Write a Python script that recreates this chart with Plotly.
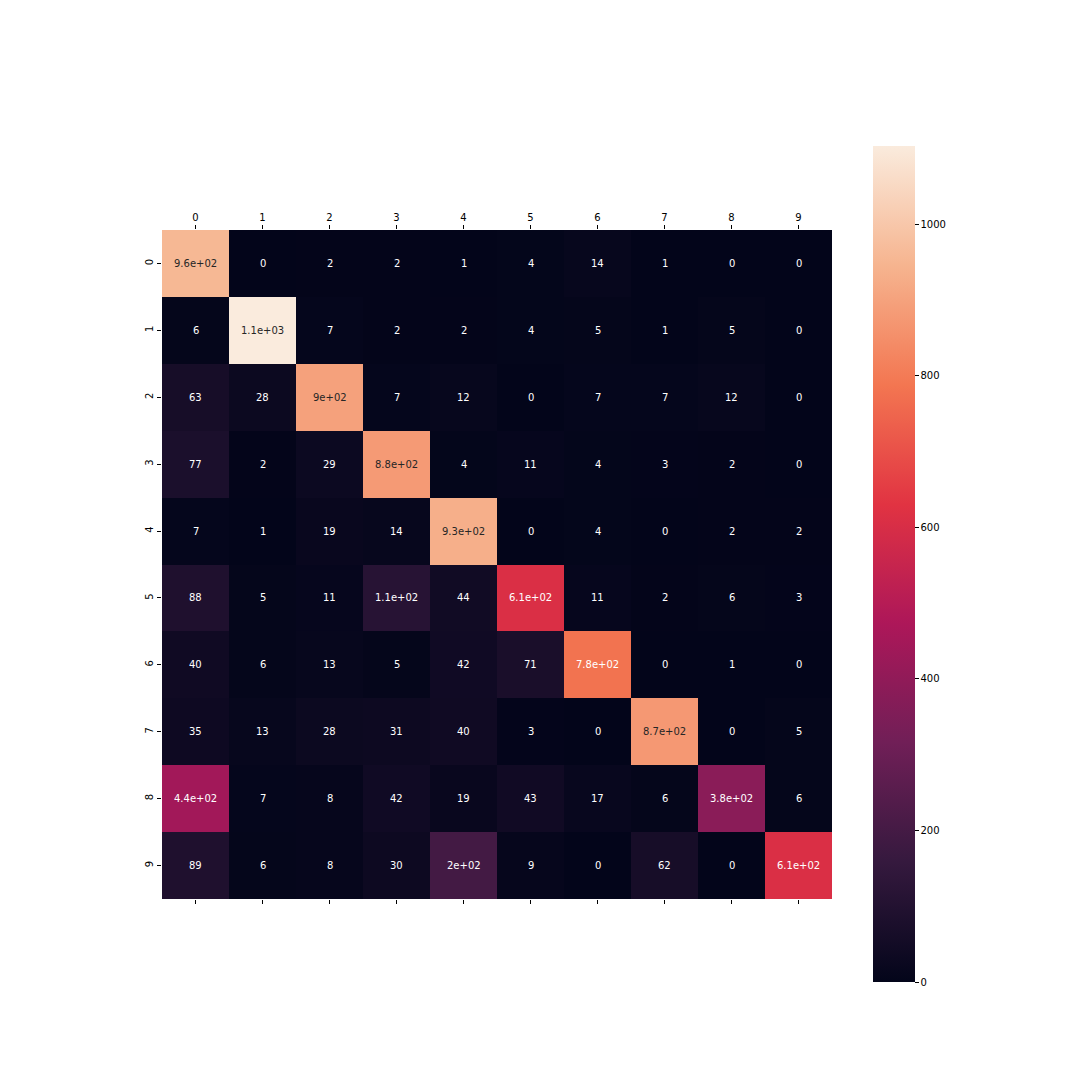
import plotly.graph_objects as go

labels = [0, 1, 2, 3, 4, 5, 6, 7, 8, 9]
matrix = [
    [956, 0, 2, 2, 1, 4, 14, 1, 0, 0],
    [6, 1103, 7, 2, 2, 4, 5, 1, 5, 0],
    [63, 28, 896, 7, 12, 0, 7, 7, 12, 0],
    [77, 2, 29, 878, 4, 11, 4, 3, 2, 0],
    [7, 1, 19, 14, 933, 0, 4, 0, 2, 2],
    [88, 5, 11, 112, 44, 610, 11, 2, 6, 3],
    [40, 6, 13, 5, 42, 71, 780, 0, 1, 0],
    [35, 13, 28, 31, 40, 3, 0, 873, 0, 5],
    [444, 7, 8, 42, 19, 43, 17, 6, 382, 6],
    [89, 6, 8, 30, 196, 9, 0, 62, 0, 609],
]
cbar_ticks = [0, 200, 400, 600, 800, 1000]

rocket = [
    [0.0, "#03051a"],
    [0.143, "#35193e"],
    [0.286, "#701f57"],
    [0.429, "#ad1759"],
    [0.571, "#e13342"],
    [0.714, "#f37651"],
    [0.857, "#f6b48f"],
    [1.0, "#faebdd"],
]

vmax = max(max(r) for r in matrix)

# page body adds an 8px offset; plot area in target pixels: x 162..832, y 230..899
OFF = 8
PL, PR, PT, PB = 162 - OFF, 832 - OFF, 230 - OFF, 899 - OFF
pw, ph = PR - PL, PB - PT
CB_X, CB_BOTTOM = 873 - OFF, 982 - OFF

fig = go.Figure()
fig.add_trace(go.Heatmap(
    z=matrix, x=labels, y=labels,
    colorscale=rocket, zmin=0, zmax=vmax,
    hoverinfo="skip",
    colorbar=dict(
        xref="paper", x=(CB_X - PL) / pw, xanchor="left",
        yref="paper", y=(PB - CB_BOTTOM) / ph, yanchor="bottom",
        lenmode="pixels", len=836,
        thicknessmode="pixels", thickness=42,
        outlinewidth=0,
        tickvals=cbar_ticks, ticks="outside", ticklen=4, tickcolor="black",
        tickfont=dict(family="DejaVu Sans", size=10, color="black"),
        xpad=0, ypad=0,
    ),
))

annotations = []
for i, row in enumerate(matrix):
    for j, v in enumerate(row):
        txt = format(v, ".2g")
        col = "#262626" if v / vmax > 0.75 else "white"
        annotations.append(dict(
            x=labels[j], y=labels[i], xref="x", yref="y", text=txt,
            showarrow=False, font=dict(family="DejaVu Sans", size=10, color=col),
        ))

fig.update_layout(
    width=1080, height=1080,
    margin=dict(l=PL, r=1080 - PR, t=PT, b=1080 - PB, autoexpand=False),
    paper_bgcolor="white", plot_bgcolor="white",
    annotations=annotations,
    xaxis=dict(
        side="top", tickmode="array", tickvals=labels, ticktext=[str(l) for l in labels],
        ticks="outside", ticklen=4, tickcolor="black", mirror="ticks",
        showgrid=False, zeroline=False, showline=False, automargin=False,
        tickfont=dict(family="DejaVu Sans", size=10, color="black"),
        range=[-0.5, 9.5],
    ),
    yaxis=dict(
        tickmode="array", tickvals=labels, ticktext=[str(l) for l in labels],
        ticks="outside", ticklen=4, tickcolor="black", tickangle=-90,
        showgrid=False, zeroline=False, showline=False, automargin=False,
        tickfont=dict(family="DejaVu Sans", size=10, color="black"),
        range=[9.5, -0.5],
    ),
)

fig.write_html("out.html")
